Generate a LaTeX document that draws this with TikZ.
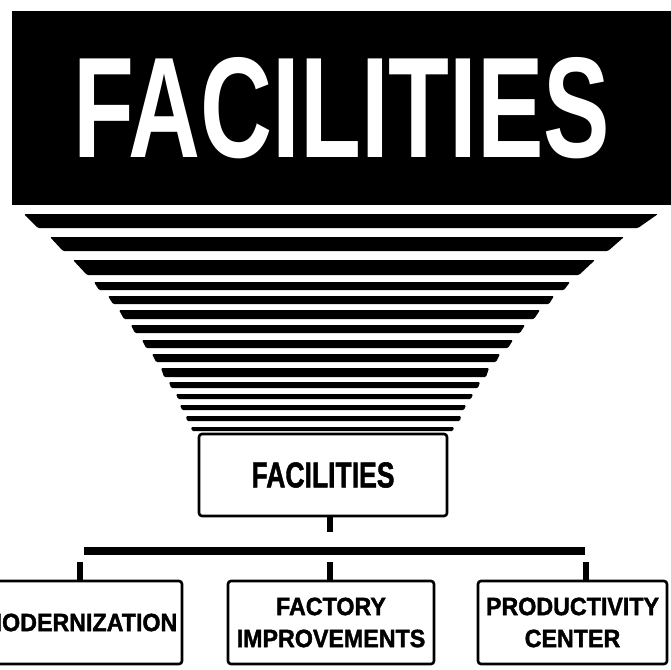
\documentclass[tikz,border=0pt]{standalone}
\usepackage{fontspec}
\setmainfont{Liberation Sans}
\newfontfamily\labfont[FakeStretch=0.93, FakeBold=1.6]{Liberation Sans}
\newfontfamily\boxfont[FakeBold=1.6]{Liberation Sans}
\begin{document}
\begin{tikzpicture}[x=1pt,y=-1pt,
  boxstyle/.style={draw=black, line width=2.6pt, rounded corners=3pt, fill=white, inner sep=0pt,
    minimum height=83pt, align=center, font=\labfont\fontsize{25}{32}\selectfont\bfseries},
  stemline/.style={line width=6pt, line cap=butt},
  barline/.style={line width=8pt, line cap=butt},
  stripe/.style={fill=black, rounded corners=1.2pt}]
\useasboundingbox (0,0) rectangle (671,669);
\clip (0,0) rectangle (671,669);
% header
\node[fill=black, anchor=north west, inner sep=0pt, minimum width=670pt, minimum height=194pt] (header) at (12,11) {};
\node[anchor=north west, inner sep=0pt, text=white] (title) at (73,57)
  {\resizebox{537pt}{100pt}{\bfseries FACILITIES}};
% stripes
\foreach \yt/\yb/\xlt/\xlb/\xrt/\xrb in {
  214/228/24/38/658/638,
  237/251/50/63/624/608,
  260/275/73/87/595/579,
  282/290/94/99/570/564,
  296/304/108/113/554/549,
  310/319/119/124/540/534,
  325/333/131/135/525/520,
  340/348/142/146/513/508,
  354/362/152/156/500/496,
  368/377/161/164/489/486,
  382/388/169/171/480/478,
  394/399/176/178/473/471,
  405/410/180/182/466/464,
  416/421/186/187/461/460,
  427/431/191/192/454/453}
  \fill[stripe] (\xlt,\yt) -- (\xrt,\yt) -- (\xrb,\yb) -- (\xlb,\yb) -- cycle;
% main box
\node[boxstyle, minimum width=248pt, minimum height=82pt] (facbox) at (323,475)
  {\resizebox{143pt}{25pt}{\boxfont\bfseries FACILITIES}};
% lower boxes
\node[boxstyle, minimum width=204pt] (modbox) at (80,622.5) {MODERNIZATION};
\node[boxstyle, minimum width=206pt] (factbox) at (331,622.5) {FACTORY\\IMPROVEMENTS};
\node[boxstyle, minimum width=189pt] (prodbox) at (572.5,622.5) {PRODUCTIVITY\\CENTER};
% connectors
\coordinate (j0) at (330,532);
\draw[stemline] (j0 |- facbox.south) -- (j0);
\coordinate (barL) at (84,551);
\coordinate (barR) at (585,551);
\draw[barline] (barL) -- (barR);
\coordinate (j1) at (80,562);
\coordinate (j2) at (330,562);
\coordinate (j3) at (586,562);
\draw[stemline] (j1) -- (j1 |- modbox.north);
\draw[stemline] (j2) -- (j2 |- factbox.north);
\draw[stemline] (j3) -- (j3 |- prodbox.north);
\end{tikzpicture}
\end{document}
